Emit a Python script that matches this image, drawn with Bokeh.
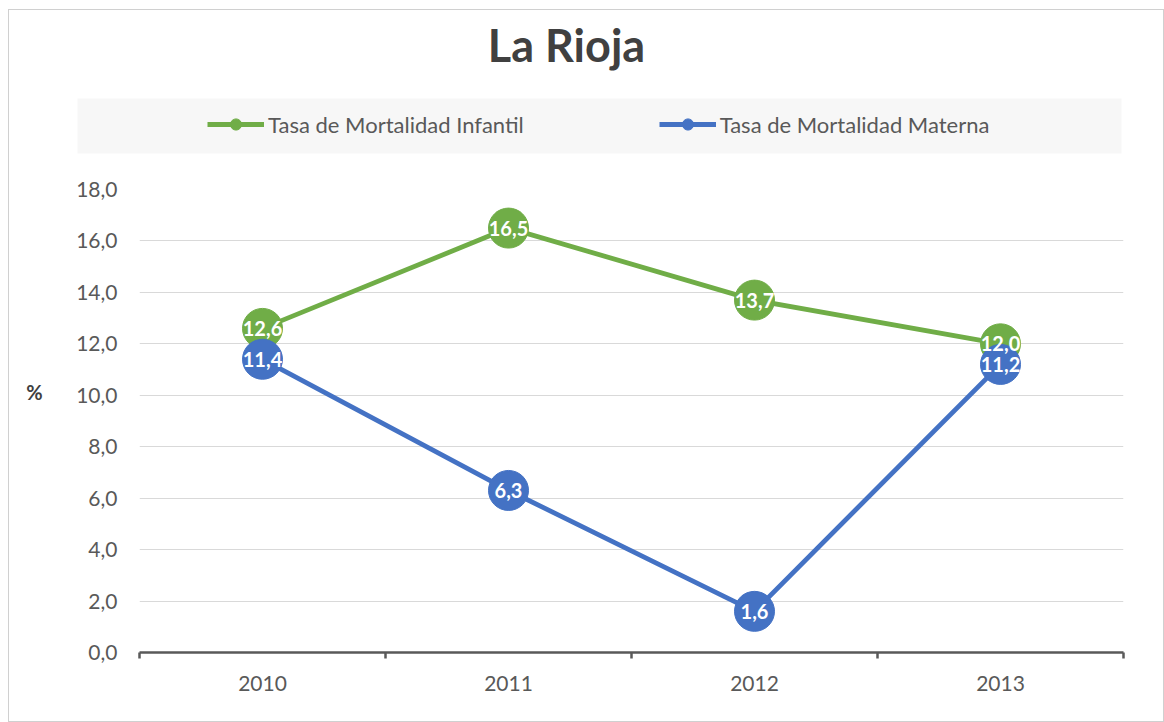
from bokeh.plotting import figure
from bokeh.layouts import column, row
from bokeh.models import (ColumnDataSource, Range1d, FixedTicker, Legend, LegendItem,
                          Label, BoxAnnotation)
from bokeh.core.properties import value
from bokeh.embed import file_html
from bokeh.resources import INLINE

# ---- data ----
years = ["2010", "2011", "2012", "2013"]
infantil = [12.6, 16.5, 13.7, 12.0]
materna = [11.4, 6.3, 1.6, 11.2]
y_ticks = [0, 2, 4, 6, 8, 10, 12, 14, 16, 18]
title_text = "La Rioja"
y_label = "%"
series_names = ["Tasa de Mortalidad Infantil", "Tasa de Mortalidad Materna"]
colors = ["#70AD47", "#4472C4"]

FONT = "Lato"
TXT = "#595959"
DARK = "#404040"
LW = 4.8
MS = 40


def fmt(v):
    return f"{v:.1f}".replace(".", ",")


def no_align(fig):
    try:
        fig.frame_align = False
    except Exception:
        pass


x = [i + 0.5 for i in range(len(years))]
src = ColumnDataSource(dict(x=x, inf=infantil, mat=materna,
                            inf_lbl=[fmt(v) for v in infantil],
                            mat_lbl=[fmt(v) for v in materna]))

W = 1154
HH = 160          # header (title + legend)
HM = 551          # main chart
LWID = 60         # left strip holding the "%" label


def blank(width, height):
    f = figure(width=width, height=height, output_backend="svg", toolbar_location=None,
               x_range=Range1d(0, width), y_range=Range1d(0, height),
               x_axis_location=None, y_axis_location=None,
               min_border_left=0, min_border_right=0, min_border_top=0,
               min_border_bottom=0)
    f.grid.visible = False
    f.outline_line_color = None
    f.background_fill_color = "white"
    f.border_fill_color = "white"
    no_align(f)
    return f


# ---------------- header figure ----------------
h = blank(W, HH)
h.add_layout(BoxAnnotation(left=68, right=68 + 1044, bottom=17, top=72,
                           fill_color="#f7f7f7", fill_alpha=1, line_color=None))

hg_l = h.line("x", "inf", source=src, line_color=colors[0], line_width=LW, visible=False)
hg_s = h.scatter("x", "inf", source=src, fill_color=colors[0], line_color=colors[0], visible=False)
hb_l = h.line("x", "mat", source=src, line_color=colors[1], line_width=LW, visible=False)
hb_s = h.scatter("x", "mat", source=src, fill_color=colors[1], line_color=colors[1], visible=False)

legend = Legend(items=[LegendItem(label=series_names[0], renderers=[hg_l, hg_s]),
                       LegendItem(label=series_names[1], renderers=[hb_l, hb_s])],
                location=(198, 32), orientation="horizontal",
                glyph_width=57, glyph_height=28, padding=14, spacing=135,
                label_standoff=4, margin=0,
                label_text_font=FONT, label_text_font_size="22px",
                label_text_color=TXT, inactive_fill_alpha=0,
                background_fill_alpha=0, border_line_color=None)
h.add_layout(legend, "center")

h.add_layout(Label(x=557, y=126, text=title_text,
                   text_font=FONT, text_font_style="bold", text_font_size="45px",
                   text_color=DARK, text_align="center", text_baseline="middle"))

# ---------------- left strip with "%" ----------------
lf = blank(LWID, HM)
lf.add_layout(Label(x=25, y=330, text=y_label,
                    text_font=FONT, text_font_style="bold", text_font_size="20px",
                    text_color=DARK, text_align="center", text_baseline="middle"))

# ---------------- main figure ----------------
p = figure(width=W - LWID, height=HM, output_backend="svg", toolbar_location=None,
           x_range=Range1d(0, len(years)), y_range=Range1d(y_ticks[0], y_ticks[-1]),
           min_border_left=70, min_border_right=40, min_border_top=19,
           min_border_bottom=69)
no_align(p)
p.outline_line_color = None
p.background_fill_color = "white"
p.border_fill_color = "white"

p.xaxis.ticker = FixedTicker(ticks=x, minor_ticks=list(range(len(years) + 1)))
p.xaxis.major_label_overrides = {xi: yr for xi, yr in zip(x, years)}
p.xaxis.major_tick_line_color = None
p.xaxis.major_tick_out = 0
p.xaxis.major_tick_in = 0
p.xaxis.minor_tick_out = 6
p.xaxis.minor_tick_in = 0
p.xaxis.minor_tick_line_color = "#595959"
p.xaxis.minor_tick_line_width = 2.5
p.xaxis.axis_line_color = "#595959"
p.xaxis.axis_line_width = 2.5
p.xaxis.major_label_text_font = FONT
p.xaxis.major_label_text_font_size = "21px"
p.xaxis.major_label_text_color = TXT
p.xaxis.major_label_standoff = 17

p.yaxis.ticker = FixedTicker(ticks=y_ticks)
p.yaxis.major_label_overrides = {t: fmt(t) for t in y_ticks}
p.yaxis.axis_line_color = None
p.yaxis.major_tick_line_color = None
p.yaxis.minor_tick_line_color = None
p.yaxis.major_tick_out = 0
p.yaxis.major_tick_in = 0
p.yaxis.major_label_text_font = FONT
p.yaxis.major_label_text_font_size = "21px"
p.yaxis.major_label_text_color = TXT
p.yaxis.major_label_standoff = 22

p.xgrid.visible = False
p.ygrid.ticker = FixedTicker(ticks=y_ticks)
p.ygrid.grid_line_color = "#d9d9d9"
p.ygrid.grid_line_width = 1

p.line("x", "inf", source=src, line_color=colors[0], line_width=LW)
p.line("x", "mat", source=src, line_color=colors[1], line_width=LW)
p.scatter("x", "inf", source=src, size=MS, fill_color=colors[0], line_color=colors[0])
p.scatter("x", "mat", source=src, size=MS, fill_color=colors[1], line_color=colors[1])

for col_y, col_t in (("inf", "inf_lbl"), ("mat", "mat_lbl")):
    p.text("x", col_y, text=col_t, source=src, text_color="white",
           text_font=value(FONT), text_font_style="bold", text_font_size="20px",
           text_align="center", text_baseline="middle")

lay = column(h, row(lf, p, spacing=0), spacing=0)
lay.styles = {"border": "1px solid #d0d0d0", "margin-left": "8px", "margin-top": "9px"}

open("out.html", "w").write(file_html(lay, INLINE))
